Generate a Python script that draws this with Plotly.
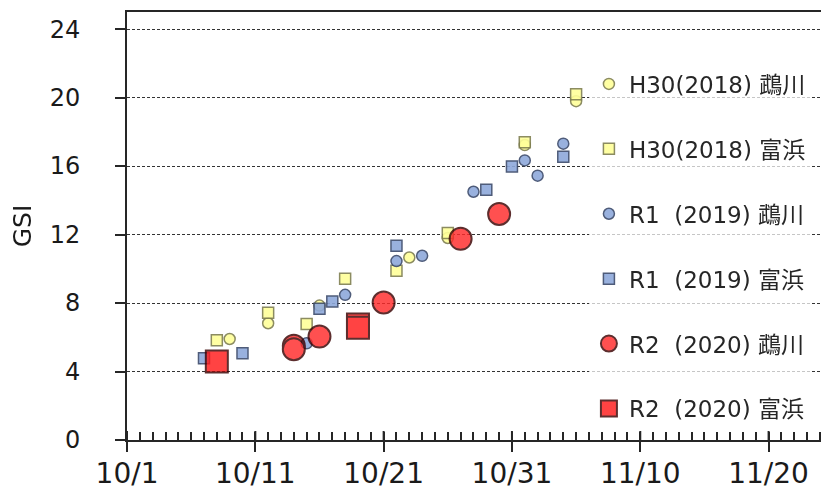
import plotly.graph_objects as go

# ---- data (dates shown on a common 2020 calendar: month/day only) ----
h30_mukawa_dates = ["2020-10-09", "2020-10-12", "2020-10-16", "2020-10-23", "2020-10-26", "2020-11-01", "2020-11-05"]
h30_mukawa_gsi = [5.9, 6.82, 7.85, 10.66, 11.8, 17.23, 19.79]

h30_tomihama_dates = ["2020-10-08", "2020-10-12", "2020-10-15", "2020-10-18", "2020-10-22", "2020-10-26", "2020-11-01", "2020-11-05"]
h30_tomihama_gsi = [5.82, 7.44, 6.77, 9.42, 9.88, 12.09, 17.39, 20.2]

r1_mukawa_dates = ["2020-10-15", "2020-10-18", "2020-10-22", "2020-10-24", "2020-10-28", "2020-11-01", "2020-11-02", "2020-11-04"]
r1_mukawa_gsi = [5.65, 8.48, 10.45, 10.76, 14.5, 16.33, 15.44, 17.31]

r1_tomihama_dates = ["2020-10-07", "2020-10-10", "2020-10-16", "2020-10-17", "2020-10-22", "2020-10-29", "2020-10-31", "2020-11-04"]
r1_tomihama_gsi = [4.78, 5.07, 7.66, 8.09, 11.35, 14.62, 15.98, 16.55]

r2_mukawa_dates = ["2020-10-14", "2020-10-14", "2020-10-16", "2020-10-21", "2020-10-27", "2020-10-30"]
r2_mukawa_gsi = [5.5, 5.3, 6.04, 8.03, 11.75, 13.2]

r2_tomihama_dates = ["2020-10-08", "2020-10-19", "2020-10-19"]
r2_tomihama_gsi = [4.58, 6.75, 6.55]

series_names = [
    "H30(2018) 鵡川",
    "H30(2018) 富浜",
    "R1\u00a0\u00a0(2019) 鵡川",
    "R1\u00a0\u00a0(2019) 富浜",
    "R2\u00a0\u00a0(2020) 鵡川",
    "R2\u00a0\u00a0(2020) 富浜",
]

x_tick_vals = ["2020-10-01", "2020-10-11", "2020-10-21", "2020-10-31", "2020-11-10", "2020-11-20"]
x_tick_text = ["10/1", "10/11", "10/21", "10/31", "11/10", "11/20"]
y_tick_vals = [0, 4, 8, 12, 16, 20, 24]

# ---- styles ----
styles = [
    dict(symbol="circle", size=11, color="#FFFF99", line="#7F7F50", opacity=0.9),
    dict(symbol="square", size=11, color="#FFFF99", line="#7F7F50", opacity=0.9),
    dict(symbol="circle", size=11, color="#8EA9DB", line="#3B4A6B", opacity=0.9),
    dict(symbol="square", size=11, color="#8EA9DB", line="#3B4A6B", opacity=0.9),
    dict(symbol="circle", size=22, color="#FF2A2A", line="#3A0000", opacity=0.82),
    dict(symbol="square", size=22, color="#FF1A1A", line="#3A0000", opacity=0.82),
]
data = [
    (h30_mukawa_dates, h30_mukawa_gsi),
    (h30_tomihama_dates, h30_tomihama_gsi),
    (r1_mukawa_dates, r1_mukawa_gsi),
    (r1_tomihama_dates, r1_tomihama_gsi),
    (r2_mukawa_dates, r2_mukawa_gsi),
    (r2_tomihama_dates, r2_tomihama_gsi),
]

FONT = "DejaVu Sans, Noto Sans CJK JP, sans-serif"

fig = go.Figure()
for i, ((xs, ys), name, st) in enumerate(zip(data, series_names, styles)):
    fig.add_trace(go.Scatter(
        x=xs, y=ys, mode="markers", name=name,
        legendgroup=f"g{i}",
        opacity=st["opacity"],
        marker=dict(symbol=st["symbol"], size=st["size"], color=st["color"],
                    line=dict(color=st["line"], width=2 if st["size"] > 15 else 1.5)),
    ))

# upper half of the major x ticks (they cross the axis line)
for tv in x_tick_vals:
    fig.add_shape(type="line", xref="x", yref="y", x0=tv, x1=tv,
                  ysizemode="pixel", yanchor=0, y0=0, y1=9,
                  line=dict(color="#262626", width=2), layer="above")

# page body has an 8px margin, so the figure is sized to fill the rest of the window
fig.update_layout(
    width=821, height=486,
    margin=dict(l=119, r=0, t=4, b=54),
    paper_bgcolor="white", plot_bgcolor="white",
    font=dict(family=FONT, color="#1a1a1a"),
    showlegend=True,
    legend=dict(
        x=0.658, y=0.882, xanchor="left", yanchor="top",
        bgcolor="rgba(255,255,255,0.72)",
        font=dict(family=FONT, size=23, color="#262626"),
        traceorder="grouped", tracegroupgap=32,
        itemwidth=30,
    ),
    xaxis=dict(
        type="date",
        range=["2020-10-01", "2020-11-24 17:00"],
        tickvals=x_tick_vals, ticktext=x_tick_text,
        ticks="outside", ticklen=10, tickwidth=2, tickcolor="#262626",
        showline=True, linecolor="#262626", linewidth=2, mirror=True,
        showgrid=False, zeroline=False, automargin=False,
        tickfont=dict(family=FONT, size=28, color="#1a1a1a"),
        ticklabelstandoff=-3,
        minor=dict(dtick=86400000, tick0="2020-10-01", ticks="inside", ticklen=8,
                   tickwidth=1.5, tickcolor="#262626", showgrid=False),
    ),
    yaxis=dict(
        range=[0, 25],
        tickvals=y_tick_vals,
        ticks="outside", ticklen=10, tickwidth=2, tickcolor="#262626",
        showline=True, linecolor="#262626", linewidth=2,
        showgrid=True, gridcolor="#333333", gridwidth=1, griddash="3px,2px",
        zeroline=False, automargin=False,
        tickfont=dict(family=FONT, size=24, color="#1a1a1a"),
        ticklabelstandoff=30,
        title=dict(text="GSI", font=dict(family=FONT, size=25, color="#1a1a1a"), standoff=12),
    ),
)

fig.write_html("out.html")
